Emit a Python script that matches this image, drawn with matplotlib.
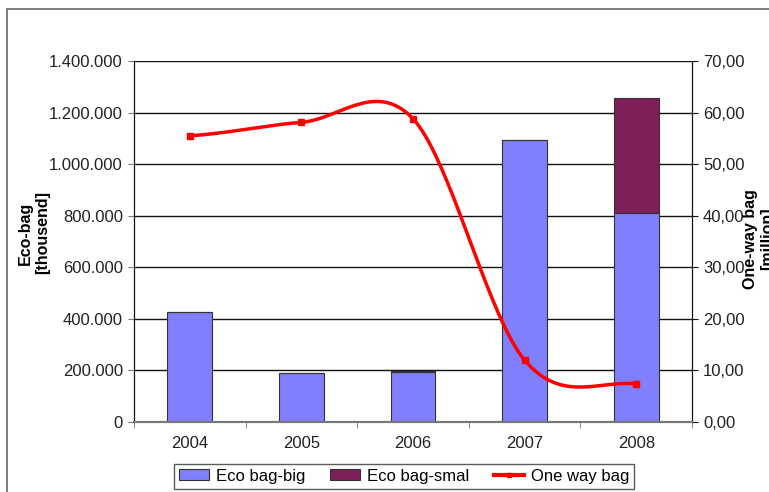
import numpy as np
import matplotlib.pyplot as plt
from matplotlib.patches import Rectangle
from matplotlib.ticker import FuncFormatter

plt.rcParams['font.family'] = ['Liberation Sans', 'DejaVu Sans']

# data
years = ['2004', '2005', '2006', '2007', '2008']
eco_big = [425000, 190000, 195000, 1095000, 810000]
eco_small = [0, 0, 3000, 0, 448000]
one_way = [55.5, 58.1, 58.8, 12.0, 7.4]


def catmull_rom(xs, ys, n=40):
    # Excel-like smoothed line through the points
    px = np.concatenate([[2 * xs[0] - xs[1]], xs, [2 * xs[-1] - xs[-2]]])
    py = np.concatenate([[ys[0]], ys, [ys[-1]]])
    ox, oy = [], []
    for i in range(1, len(px) - 2):
        t = np.linspace(0, 1, n)
        for arr, out in ((px, ox), (py, oy)):
            p0, p1, p2, p3 = arr[i - 1], arr[i], arr[i + 1], arr[i + 2]
            out.extend(0.5 * ((2 * p1) + (-p0 + p2) * t
                              + (2 * p0 - 5 * p1 + 4 * p2 - p3) * t ** 2
                              + (-p0 + 3 * p1 - 3 * p2 + p3) * t ** 3))
    return np.array(ox), np.array(oy)


fig = plt.figure(figsize=(7.69, 4.92), dpi=100)
ax = fig.add_axes([134 / 769, 1 - 422 / 492, 558 / 769, 361 / 492])
ax2 = ax.twinx()

x = np.arange(len(years))
ax.bar(x, eco_big, width=0.4, color='#8080ff', edgecolor='#333333', linewidth=0.8,
       label='Eco bag-big', zorder=3)
ax.bar(x, eco_small, width=0.4, bottom=eco_big, color='#7f1f5a', edgecolor='#333333',
       linewidth=0.8, label='Eco bag-smal', zorder=3)

ax.set_xlim(-0.5, 4.5)
ax.set_ylim(0, 1400000)
ax.set_yticks(np.arange(0, 1400001, 200000))
ax.yaxis.set_major_formatter(FuncFormatter(lambda v, p: f'{int(v):,}'.replace(',', '.')))
ax.grid(axis='y', color='#111111', linewidth=1.0, zorder=0)
ax.set_axisbelow(True)
ax.set_xticks(x)
ax.set_xticklabels(years)
ax.set_xticks(np.arange(-0.5, 5, 1), minor=True)
ax.tick_params(axis='x', which='major', length=0, pad=10)
ax.tick_params(axis='x', which='minor', length=4, color='#777777')
ax.tick_params(axis='y', length=4, color='#777777', pad=4)
ax.tick_params(labelsize=12, labelcolor='#222222')

# line on secondary axis
sx, sy = catmull_rom(x.astype(float), np.array(one_way))
ax2.plot(sx, sy, color='red', linewidth=2.5, zorder=4)
ax2.plot(x, one_way, 's', color='red', markersize=5, zorder=5)
ax2.plot([], [], '-s', color='red', linewidth=3, markersize=3, label='One way bag')
ax2.set_ylim(0, 70)
ax2.set_yticks(np.arange(0, 71, 10))
ax2.yaxis.set_major_formatter(FuncFormatter(lambda v, p: f'{v:.2f}'.replace('.', ',')))
ax2.tick_params(axis='y', length=4, color='#111111', labelsize=12, labelcolor='#222222', pad=4)

for a in (ax, ax2):
    a.spines['top'].set_visible(False)
    a.spines['bottom'].set_color('#777777')
    a.spines['bottom'].set_linewidth(1.5)
    a.spines['left'].set_color('#111111')
    a.spines['right'].set_color('#111111')

fig.text(34 / 769, 1 - 233 / 492, 'Eco-bag\n[thousend]', rotation=90, fontsize=11.5,
         fontweight='bold', ha='center', va='center', linespacing=1.15)
fig.text(759 / 769, 1 - 239 / 492, 'One-way bag\n[million]', rotation=90, fontsize=11.5,
         fontweight='bold', ha='center', va='center', linespacing=1.15)

h1, l1 = ax.get_legend_handles_labels()
h2, l2 = ax2.get_legend_handles_labels()
leg = fig.legend(h1 + h2, l1 + l2, loc='center', bbox_to_anchor=(404 / 769, 1 - 476 / 492),
                 ncol=3, fontsize=12, frameon=True, fancybox=False, edgecolor='#333333',
                 handlelength=1.8, handleheight=0.6, handletextpad=0.4, columnspacing=1.5,
                 borderpad=0.3)
leg.get_frame().set_linewidth(1.0)

fig.patches.append(Rectangle((7 / 769, -0.1), 1.2, 1 - 9 / 492 + 0.1, transform=fig.transFigure,
                             fill=False, edgecolor='#666666', linewidth=1.2))

fig.savefig('out.png', dpi=100)
